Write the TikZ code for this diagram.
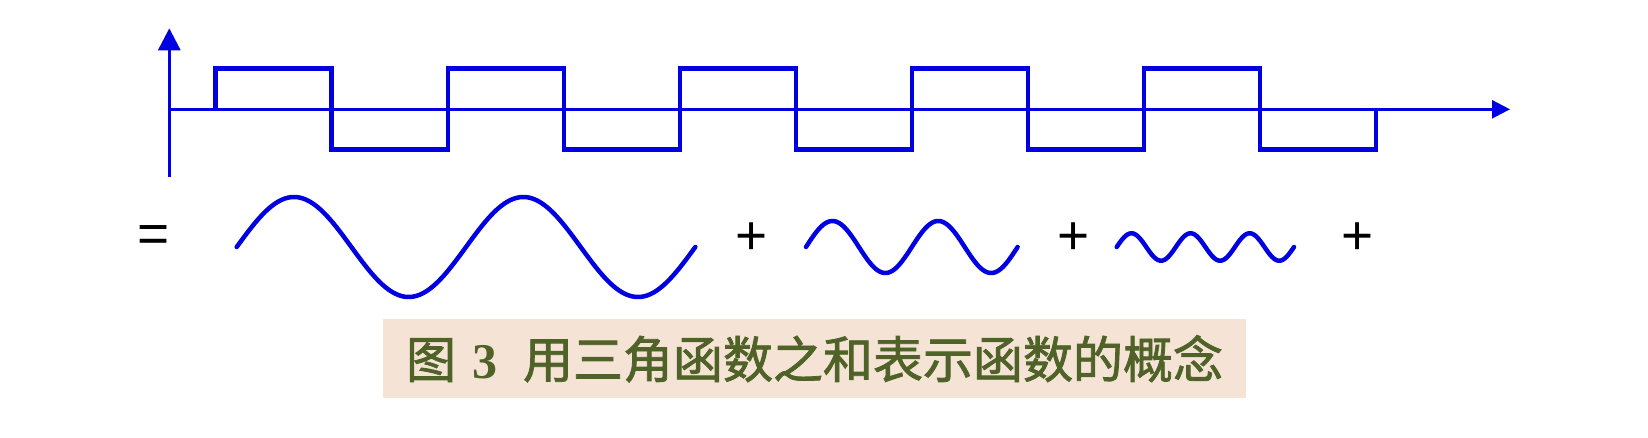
\documentclass[tikz,border=0pt]{standalone}
\usepackage{fontspec}
\setmainfont{Liberation Serif}
\newfontfamily\cjk[FakeBold=1.6]{Noto Sans CJK SC}
\newfontfamily\opsans{Liberation Sans}
\usetikzlibrary{arrows.meta}
\definecolor{wave}{RGB}{0,0,225}
\definecolor{capbg}{RGB}{245,228,214}
\definecolor{captext}{RGB}{79,98,40}
\begin{document}
\begin{tikzpicture}[x=1pt,y=-1pt,
  sqwave/.style={draw=wave,line width=4.5pt},
  sinestyle/.style={draw=wave,line width=4.5pt,line cap=round},
  axisstyle/.style={draw=wave,line width=2.5pt},
  op/.style={font=\opsans\fontsize{55}{60}\selectfont,inner sep=0pt,text=black}]
\useasboundingbox (0,0) rectangle (1648,438);
% axes
\coordinate (origin) at (169.3,109.3);
\coordinate (ybottom) at (169.3,177.3);
\coordinate (ytop) at (169.3,28.3);
\coordinate (xend) at (1510,109.3);
\draw[axisstyle,line width=3pt,-{Triangle[length=22pt,width=22pt]}] (ybottom) -- (ytop);
\draw[axisstyle,-{Triangle[length=18pt,width=18pt]}] (origin) -- (xend);
% square wave
\draw[sqwave] (215.7,109.3) -- (215.7,68.3) -- (331.7,68.3) -- (331.7,149.7) -- (447.8,149.7) -- (447.8,68.3) -- (563.8,68.3) -- (563.8,149.7) -- (679.8,149.7) -- (679.8,68.3) -- (795.9,68.3) -- (795.9,149.7) -- (911.9,149.7) -- (911.9,68.3) -- (1027.9,68.3) -- (1027.9,149.7) -- (1144.0,149.7) -- (1144.0,68.3) -- (1260.0,68.3) -- (1260.0,149.7) -- (1376.0,149.7) -- (1376.0,109.3);
% operators
\node[op] (eq) at (154,239) {=};
\node[op] (plusa) at (752,239) {+};
\node[op] (plusb) at (1074,239) {+};
\node[op] (plusc) at (1358,239) {+};
% sine waves
\draw[sinestyle] plot[domain=0:720,samples=181,smooth] ({236.7+\x/360*229.3},{247-50*sin(\x)});
\draw[sinestyle] plot[domain=0:720,samples=181,smooth] ({806+\x/360*105.8},{247-26*sin(\x)});
\draw[sinestyle] plot[domain=0:1080,samples=241,smooth] ({1116.7+\x/360*59.1},{247-13.7*sin(\x)});
% caption
\node[fill=capbg,minimum width=862.4pt,minimum height=79pt,inner sep=0pt,text=captext,
  font=\fontsize{50}{56}\selectfont] (caption) at (814.5,358.8)
  {{\cjk 图}\hspace{16pt}{\bfseries 3}\hspace{26pt}{\cjk 用三角函数之和表示函数的概念}};
\end{tikzpicture}
\end{document}
